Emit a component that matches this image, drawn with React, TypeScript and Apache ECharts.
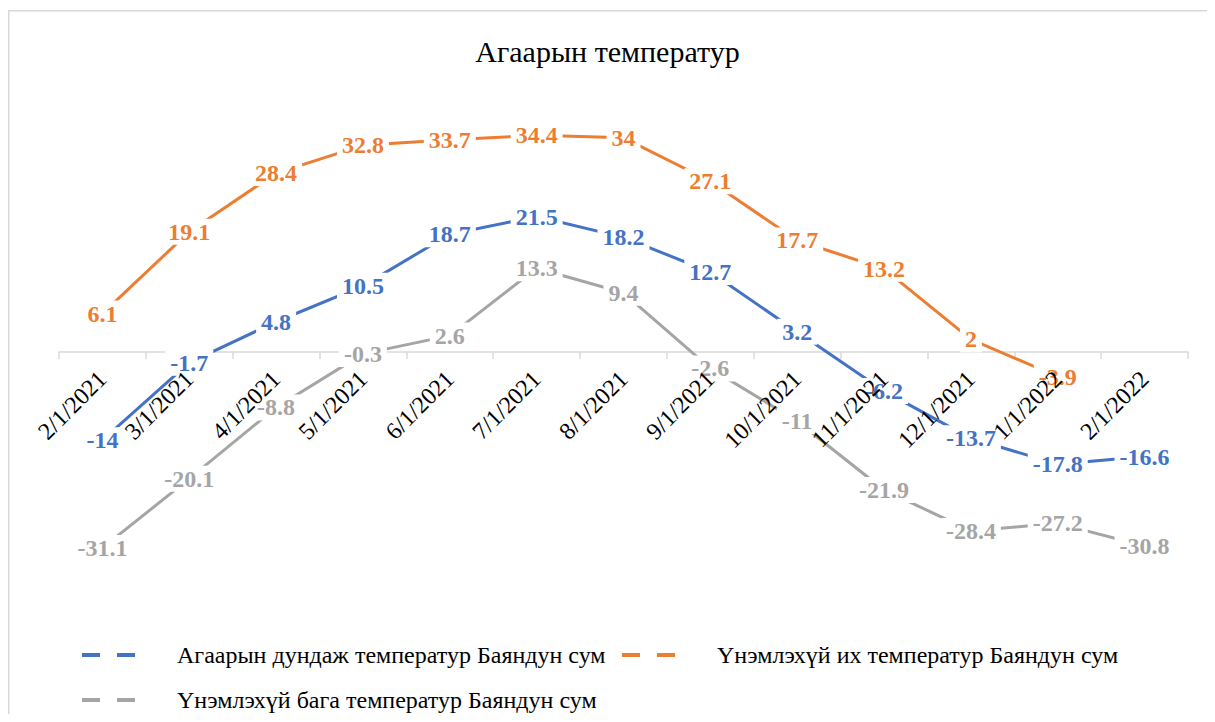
import React, { useEffect, useRef } from "react";
import * as echarts from "echarts";

const categories = [
  "2/1/2021", "3/1/2021", "4/1/2021", "5/1/2021", "6/1/2021", "7/1/2021", "8/1/2021",
  "9/1/2021", "10/1/2021", "11/1/2021", "12/1/2021", "1/1/2022", "2/1/2022",
];
const avgTemp = [-14, -1.7, 4.8, 10.5, 18.7, 21.5, 18.2, 12.7, 3.2, -6.2, -13.7, -17.8, -16.6];
const maxTemp = [6.1, 19.1, 28.4, 32.8, 33.7, 34.4, 34, 27.1, 17.7, 13.2, 2, -3.9, null];
const minTemp = [-31.1, -20.1, -8.8, -0.3, 2.6, 13.3, 9.4, -2.6, -11, -21.9, -28.4, -27.2, -30.8];

const seriesNames = [
  "Агаарын дундаж температур Баяндун сум",
  "Үнэмлэхүй их температур Баяндун сум",
  "Үнэмлэхүй бага температур Баяндун сум",
];
const colors = ["#4472C4", "#ED7D31", "#A5A5A5"];
const titleText = "Агаарын температур";

const FONT = "'Liberation Serif', 'Times New Roman', serif";
const DASH_ICON = "path://M0,0h18v4h-18z M35,0h18v4h-18z";

const GRID_TOP = 92;
const GRID_BOTTOM = 110;
const CHART_H = 706;

export default function App() {
  const ref = useRef<HTMLDivElement>(null);
  useEffect(() => {
    if (!ref.current) return;
    const chart = echarts.init(ref.current, undefined, { renderer: "svg" });
    const mkSeries = (i: number, data: (number | null)[]) => ({
      name: seriesNames[i],
      type: "line",
      data,
      xAxisIndex: 0,
      symbol: "circle",
      symbolSize: 0,
      lineStyle: { color: colors[i], width: 3 },
      itemStyle: { color: colors[i] },
      label: {
        show: true,
        position: "inside",
        color: colors[i],
        fontFamily: FONT,
        fontWeight: "bold",
        fontSize: 24,
        backgroundColor: "#ffffff",
        padding: [1, 5],
      },
      emphasis: { disabled: true },
    });
    const mkLegend = (i: number, left: number, top: number) => ({
      data: [seriesNames[i]],
      left,
      top,
      icon: DASH_ICON,
      itemWidth: 53,
      itemHeight: 4,
      selectedMode: false,
      textStyle: {
        fontFamily: FONT,
        fontSize: 24,
        color: "#000",
        padding: [0, 0, 0, 37],
      },
    });
    const plotH = CHART_H - GRID_TOP - GRID_BOTTOM;
    chart.setOption({
      animation: false,
      color: colors,
      title: {
        text: titleText,
        left: "center",
        top: 23,
        textStyle: { fontFamily: FONT, fontSize: 30, fontWeight: "normal", color: "#000" },
      },
      grid: { left: 51, right: 19, top: GRID_TOP, bottom: GRID_BOTTOM },
      legend: [mkLegend(0, 69, 630), mkLegend(1, 609, 630), mkLegend(2, 69, 675)],
      xAxis: [
        {
          type: "category",
          data: categories,
          boundaryGap: true,
          position: "bottom",
          offset: -plotH / 2,
          z: 0,
          axisLine: { onZero: false, lineStyle: { color: "#d9d9d9", width: 1.5 } },
          axisTick: { show: true, length: 7, lineStyle: { color: "#d9d9d9", width: 1.5 } },
          axisLabel: { show: false },
        },
        {
          type: "category",
          data: categories,
          boundaryGap: true,
          position: "bottom",
          offset: -plotH / 2,
          z: 10,
          axisLine: { show: false, onZero: false },
          axisTick: { show: false },
          axisLabel: {
            rotate: 45,
            interval: 0,
            margin: 23,
            fontFamily: FONT,
            fontSize: 24,
            color: "#000",
          },
        },
      ],
      yAxis: {
        type: "value",
        min: -40,
        max: 40,
        show: false,
        splitLine: { show: false },
      },
      graphic: [
        {
          type: "rect",
          shape: { x: 0.75, y: 2.75, width: 1400, height: 900 },
          style: { fill: "none", stroke: "#d9d9d9", lineWidth: 1.5 },
          silent: true,
        },
      ],
      series: [mkSeries(0, avgTemp), mkSeries(1, maxTemp), mkSeries(2, minTemp)],
    });
    return () => chart.dispose();
  }, []);
  return <div ref={ref} style={{ width: 1199, height: CHART_H }} />;
}
